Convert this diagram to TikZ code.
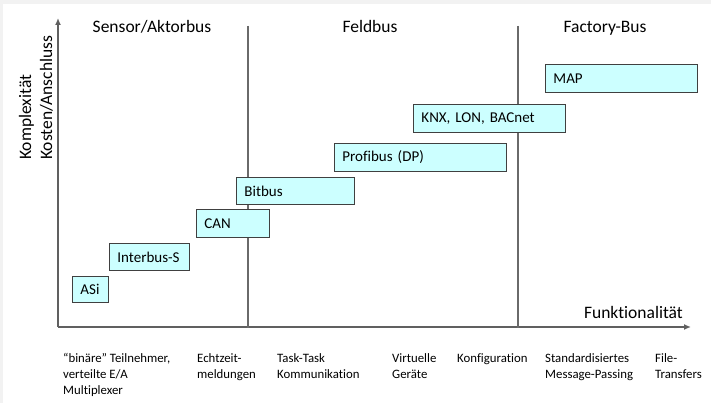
\documentclass[tikz,border=0pt]{standalone}
\usepackage{fontspec}
\setmainfont{Carlito}[Ligatures={NoCommon}]
\frenchspacing
\usetikzlibrary{arrows.meta}
\definecolor{boxfill}{HTML}{CCFFFF}
\definecolor{axisgray}{HTML}{606060}
\definecolor{divgray}{HTML}{6A6A6A}
\definecolor{edgegray}{HTML}{F2F2F2}
\tikzset{
  busbox/.style={draw=black!75, line width=0.9pt, fill=boxfill, anchor=north west,
    inner xsep=8pt, inner ysep=0pt, align=left, font=\fontsize{15}{18}\selectfont},
  axisline/.style={draw=axisgray, line width=1.4pt},
  divider/.style={draw=divgray, line width=1.1pt},
  header/.style={font=\fontsize{17.5}{21}\selectfont, anchor=base, inner sep=0pt},
  ylabel/.style={font=\fontsize{17.5}{21}\selectfont, rotate=90, anchor=base west, inner sep=0pt},
  tick/.style={font=\fontsize{12.8}{16}\selectfont, anchor=north west, align=left, inner sep=0pt}
}
\begin{document}
\begin{tikzpicture}[x=1pt, y=-1pt]
  % page with a thin grey edge at top and left
  \fill[edgegray] (0,0) rectangle (711,403);
  \fill[white] (3,4) rectangle (711,403);
  \useasboundingbox (0,0) rectangle (711,403);

  % axes
  \coordinate (origin) at (58,327);
  \coordinate (ytip) at (58,18);
  \coordinate (xtip) at (691,327);
  \draw[axisline, -{Latex[length=7pt,width=6pt]}] (origin) -- (ytip);
  \draw[axisline, -{Latex[length=7pt,width=6pt]}] (origin) -- (xtip);

  % section dividers
  \coordinate (d1top) at (248,26);
  \coordinate (d1bot) at (248,328);
  \coordinate (d2top) at (518,26);
  \coordinate (d2bot) at (518,328);
  \draw[divider] (d1top) -- (d1bot);
  \draw[divider] (d2top) -- (d2bot);

  % section headers
  \node[header] (hsensor) at (152,33) {Sensor/Aktorbus};
  \node[header] (hfeld) at (370,33) {Feldbus};
  \node[header] (hfactory) at (605,33) {Factory-Bus};

  % axis titles
  \node[ylabel] (ykompl) at (31,160) {Komplexität};
  \node[ylabel] (ykosten) at (52,160) {Kosten/Anschluss};
  \node[font=\fontsize{17.5}{21}\selectfont, anchor=base east, inner sep=0pt] (xfunk) at (683,318) {Funktionalität};

  % bus systems
  \node[busbox, text width=20pt, minimum height=26pt] (asi) at (72,276) {ASi};
  \node[busbox, text width=64pt, minimum height=27pt] (interbus) at (109,243) {Interbus-S};
  \node[busbox, text width=57pt, minimum height=28pt] (can) at (196,209) {CAN};
  \node[busbox, text width=102pt, minimum height=27pt] (bitbus) at (236,177) {Bitbus};
  \node[busbox, text width=156pt, minimum height=28pt] (profibus) at (334,143) {Profibus (DP)};
  \node[busbox, text width=136pt, minimum height=28pt] (knx) at (413,104) {KNX, LON, BACnet};
  \node[busbox, text width=136pt, minimum height=28pt] (map) at (545,64) {MAP};

  % functionality scale
  \node[tick] (f1) at (63,353) {“binäre” Teilnehmer,\\verteilte E/A\\Multiplexer};
  \node[tick] (f2) at (197,353) {Echtzeit-\\meldungen};
  \node[tick] (f3) at (277,353) {Task-Task\\Kommunikation};
  \node[tick] (f4) at (392,353) {Virtuelle\\Geräte};
  \node[tick] (f5) at (457,353) {Konfiguration};
  \node[tick] (f6) at (545,353) {Standardisiertes\\Message-Passing};
  \node[tick] (f7) at (655,353) {File-\\Transfers};
\end{tikzpicture}
\end{document}
